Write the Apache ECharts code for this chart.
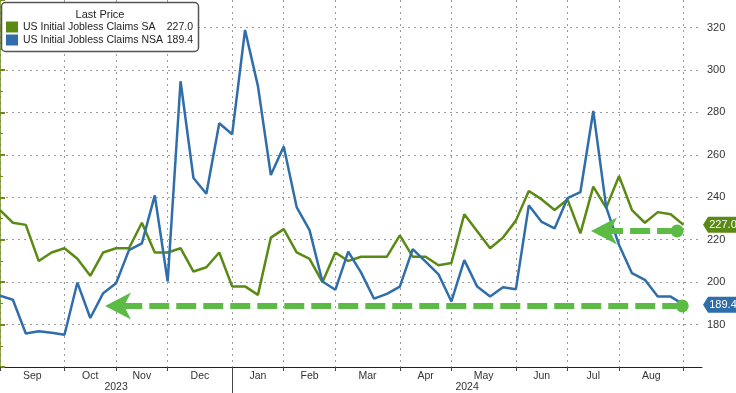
<!DOCTYPE html>
<html><head><meta charset="utf-8">
<script src="https://cdn.jsdelivr.net/npm/echarts@6/dist/echarts.min.js"></script>
<style>html,body{margin:0;padding:0;background:#fff}#c{width:736px;height:393px}</style>
</head><body><div id="c"></div>
<script>
// Week-ending dates (x categories, by position index)
const weekEnding = ['2023-08-26','2023-09-02','2023-09-09','2023-09-16','2023-09-23','2023-09-30','2023-10-07','2023-10-14','2023-10-21','2023-10-28',
'2023-11-04','2023-11-11','2023-11-18','2023-11-25','2023-12-02','2023-12-09','2023-12-16','2023-12-23','2023-12-30',
'2024-01-06','2024-01-13','2024-01-20','2024-01-27','2024-02-03','2024-02-10','2024-02-17','2024-02-24',
'2024-03-02','2024-03-09','2024-03-16','2024-03-23','2024-03-30','2024-04-06','2024-04-13','2024-04-20','2024-04-27',
'2024-05-04','2024-05-11','2024-05-18','2024-05-25','2024-06-01','2024-06-08','2024-06-15','2024-06-22','2024-06-29',
'2024-07-06','2024-07-13','2024-07-20','2024-07-27','2024-08-03','2024-08-10','2024-08-17','2024-08-24','2024-08-31'];

const claimsSA = [234,228,227,210,214,216,211,203,214,216,216,228,214,214,216,205,207,214,198,198,194,221,225,214,211,200,214,210,212,212,212,222,212,212,208,209,232,224,216,221,229,243,239,234,239,223,245,235,250,234,228,233,232,227];
const claimsNSA = [193.6,191.7,175.8,176.9,176.1,175.2,199.8,183.1,194.8,199.5,215.1,218.3,240.9,200.3,294.7,249.1,241.7,274.9,269.7,318.9,292.4,250.5,263.9,235.4,224.5,200.3,196.4,214.4,204.5,192.2,194.5,197.9,215.6,209.7,203.7,190.9,210.4,197.9,193.2,197.6,196.7,236.2,228.4,225.3,239.6,242.4,280.7,235.4,217.5,204.2,201.1,193.2,193.2,189.4];

const seriesNames = ['US Initial Jobless Claims SA','US Initial Jobless Claims NSA'];
const lastValues = [227.0, 189.4];
const legendTitle = 'Last Price';

// Axis ticks / labels
const monthBoundaryIdx = [0,5,9,13,18,22,26,31,35,40,44,48,53];
const monthNames = ['Sep','Oct','Nov','Dec','Jan','Feb','Mar','Apr','May','Jun','Jul','Aug'];
const yearNames = ['2023','2024'];
const yearBoundaryIdx = 18;

// Annotation arrows (start dot at right, arrow-head centre at left)
const arrowFrom = [52.9, 52.5];
const arrowTo = [9.15, 46.83];
const arrowLevel = [188.8, 224.1];

const xMax = 54.43;
const FONT = 'Liberation Sans';
const AXFONT = 'Liberation Sans';
const GREEN = '#5b8a14', BLUE = '#2f6eab', ARROW = '#5cbb45', YAX = '#6d8a1e';
// notched arrow head pointing up; rotated 90deg to point left
const ARROW_PATH = 'path://M12,0 L24,26 L12,19 L0,26 Z';

const monthLabelPos = monthNames.map((m,i)=> (monthBoundaryIdx[i] + monthBoundaryIdx[i+1]) / 2);
const yearLabelPos = [yearBoundaryIdx/2, (yearBoundaryIdx + xMax)/2];

const toXY = arr => arr.map((v,i)=>[i, v]);
function nearestName(v, pos, names){let b=0;for(let i=1;i<pos.length;i++){if(Math.abs(pos[i]-v)<Math.abs(pos[b]-v))b=i;}return names[b];}

const chart = echarts.init(document.getElementById('c'), null, {renderer:'canvas'});
const grid = {left:0, right:34, top:0, bottom:26};
const arrowMarks = [];
arrowTo.forEach((t,i)=>{
  arrowMarks.push({coord:[t, arrowLevel[i]], symbol:ARROW_PATH, symbolSize:[27,26], symbolRotate:90});
  arrowMarks.push({coord:[arrowFrom[i], arrowLevel[i]], symbol:'circle', symbolSize:13, symbolRotate:0});
});
const option = {
  animation:false,
  backgroundColor:'#fff',
  grid: grid,
  legend: {
    orient:'vertical', left:1, top:16, itemWidth:12, itemHeight:11, itemGap:1, icon:'rect',
    selectedMode:false, z:6,
    data: seriesNames,
    textStyle:{fontFamily:FONT, fontSize:10.5, color:'#222', lineHeight:12,
      rich:{n:{width:143, fontFamily:FONT, fontSize:10.5, color:'#222'}, v:{width:27, align:'right', fontFamily:FONT, fontSize:10.5, color:'#222'}}},
    formatter: name => `{n|${name}}{v|${lastValues[seriesNames.indexOf(name)].toFixed(1)}}`
  },
  xAxis: [{
    type:'value', min:0, max:xMax, position:'bottom',
    axisLine:{show:true, onZero:false, lineStyle:{color:'#222', width:1}},
    axisTick:{show:true, customValues:monthBoundaryIdx, length:4, lineStyle:{color:'#444'}},
    splitLine:{show:true, lineStyle:{color:'#9a9a9a', type:[2,4], width:1}},
    axisLabel:{customValues:monthLabelPos, margin:4, fontFamily:AXFONT, fontSize:10.5, color:'#333',
      formatter: v => nearestName(v, monthLabelPos, monthNames)}
  },{
    type:'value', min:0, max:xMax, position:'bottom',
    axisLine:{show:false},
    axisTick:{show:true, customValues:[yearBoundaryIdx], length:26, lineStyle:{color:'#444'}},
    splitLine:{show:false},
    axisLabel:{customValues:yearLabelPos, margin:15, fontFamily:AXFONT, fontSize:10.5, color:'#333',
      formatter: v => nearestName(v, yearLabelPos, yearNames)}
  }],
  yAxis: {
    type:'value', position:'right', min:160, max:333, interval:20,
    axisLine:{show:true, lineStyle:{color:YAX, width:1.5}},
    axisTick:{show:true, length:5, lineStyle:{color:YAX, width:2}},
    minorTick:{show:true, splitNumber:2, length:3, lineStyle:{color:YAX}},
    axisLabel:{showMinLabel:false, showMaxLabel:false, margin:5, fontFamily:AXFONT, fontSize:11, color:'#333'},
    splitLine:{show:true, showMaxLine:false, lineStyle:{color:'#9a9a9a', type:[2,4], width:1}}
  },
  series: [{
    name:seriesNames[0], type:'line', data:toXY(claimsSA), showSymbol:false,
    lineStyle:{color:GREEN, width:2.5}, itemStyle:{color:GREEN}, z:2
  },{
    name:seriesNames[1], type:'line', data:toXY(claimsNSA), showSymbol:false,
    lineStyle:{color:BLUE, width:2.5}, itemStyle:{color:BLUE}, z:3,
    markLine:{
      silent:true, symbol:['none','none'],
      label:{show:false}, emphasis:{disabled:true},
      lineStyle:{color:ARROW, width:6, type:[20,7], opacity:1},
      itemStyle:{color:ARROW},
      data: arrowFrom.map((f,i)=>[{coord:[f, arrowLevel[i]]},{coord:[arrowTo[i], arrowLevel[i]]}])
    },
    markPoint:{
      silent:true,
      label:{show:false}, emphasis:{disabled:true},
      itemStyle:{color:ARROW, opacity:1},
      data: arrowMarks
    }
  }]
};
chart.setOption(option);

// Legend box, title and right-axis last-value tags
const xRight = chart.convertToPixel({xAxisIndex:0}, xMax);
const tagColors = [GREEN, BLUE];
const graphics = [
  {type:'rect', shape:{x:1.5, y:2.5, width:197, height:49, r:4}, style:{fill:'#fff', stroke:'#555', lineWidth:1.5}, z:4},
  {type:'text', x:100, y:15, style:{text:legendTitle, font:`11px "${FONT}"`, fill:'#222', align:'center', verticalAlign:'middle'}, z:6}
];
lastValues.forEach((v,i)=>{
  const y = chart.convertToPixel({yAxisIndex:0}, v);
  graphics.push({type:'polygon', shape:{points:[[xRight+1,y],[xRight+6,y-8],[736,y-8],[736,y+8],[xRight+6,y+8]]}, style:{fill:tagColors[i]}, z:6});
  graphics.push({type:'text', x:xRight+21, y:y, style:{text:v.toFixed(1), font:`11px "${AXFONT}"`, fill:'#fff', align:'center', verticalAlign:'middle'}, z:7});
});
chart.setOption({graphic: graphics});
</script>
</body></html>
